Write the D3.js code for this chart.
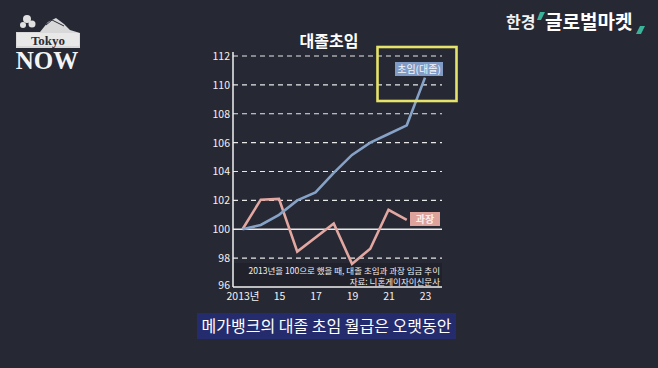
<!DOCTYPE html>
<html><head><meta charset="utf-8">
<script src="https://cdn.jsdelivr.net/npm/d3@7"></script>
<style>html,body{margin:0;padding:0;background:#262834;}svg{display:block;}</style>
</head><body>
<script>
const years = [2013,2014,2015,2016,2017,2018,2019,2020,2021,2022,2023];
const graduateStart = [100,100.3,101.0,102.0,102.55,103.9,105.15,106.0,106.6,107.2,110.5];
const managerYears = [2013,2014,2015,2016,2018,2019,2020,2021,2022];
const managerValues = [100,102.05,102.1,98.45,100.4,97.6,98.65,101.35,100.65];
const yTicks = [96,98,100,102,104,106,108,110,112];
const xTicks = [2013,2015,2017,2019,2021,2023];
const xTickLabels = ["2013년","15","17","19","21","23"];
const title = "대졸초임";
const seriesLabels = ["초임(대졸)","과장"];
const notes = ["2013년을 100으로 했을 때, 대졸 초임과 과장 임금 추이","자료: 니혼게이자이신문사"];
const subtitle = "메가뱅크의 대졸 초임 월급은 오랫동안";

const W=658,H=368;
const svg=d3.select("body").append("svg").attr("width",W).attr("height",H);
svg.append("rect").attr("width",W).attr("height",H).attr("fill","#262834");
const font="'Noto Sans CJK KR','Noto Sans',sans-serif";

const x=d3.scaleLinear().domain([2013,2023]).range([242.5,425]);
const y=d3.scaleLinear().domain([96,112]).range([287,56]);
const left=233,right=442;

// footnote backdrop
svg.append("rect").attr("x",left).attr("y",263).attr("width",right-left).attr("height",24).attr("fill","#20212b");

// grid
yTicks.forEach(t=>{
  if(t===96) return;
  svg.append("line").attr("x1",left).attr("x2",right).attr("y1",y(t)).attr("y2",y(t))
    .attr("stroke","#e8e8e8").attr("stroke-width",t===100?1.6:1.2)
    .attr("stroke-dasharray",t===100?null:"5,4");
});
// axes
svg.append("line").attr("x1",left).attr("x2",left).attr("y1",y(112)-4).attr("y2",y(96)).attr("stroke","#f0f0f0").attr("stroke-width",1.5);
svg.append("line").attr("x1",left).attr("x2",right).attr("y1",y(96)).attr("y2",y(96)).attr("stroke","#f0f0f0").attr("stroke-width",1.5);

const ya=svg.append("g").attr("transform",`translate(${left-3},0)`).call(d3.axisLeft(y).tickValues(yTicks).tickSize(0).tickPadding(0));
ya.select(".domain").remove();
ya.selectAll("text").attr("fill","#f2f2f2").attr("font-size",10.5).attr("font-family",font);
ya.selectAll(".tick").filter(d=>d===96).select("text").attr("dy","0.1em");

const xa=svg.append("g").attr("transform",`translate(0,${y(96)})`).call(d3.axisBottom(x).tickValues(xTicks).tickSize(0).tickPadding(6).tickFormat((d,i)=>xTickLabels[i]));
xa.select(".domain").remove();
xa.selectAll("text").attr("fill","#f2f2f2").attr("font-size",10.5).attr("font-family",font);

// title
svg.append("text").attr("x",329).attr("y",47).attr("text-anchor","middle").attr("fill","#ffffff")
  .attr("font-size",16).attr("font-weight","bold").attr("font-family",font).text(title);

// lines
const line=d3.line().x(d=>x(d[0])).y(d=>y(d[1]));
svg.append("path").datum(managerYears.map((d,i)=>[d,managerValues[i]])).attr("d",line)
  .attr("fill","none").attr("stroke","#e2a7a1").attr("stroke-width",2.6).attr("stroke-linejoin","miter");
svg.append("path").datum(years.map((d,i)=>[d,graduateStart[i]])).attr("d",line)
  .attr("fill","none").attr("stroke","#86a2c6").attr("stroke-width",2.6);

// labels
svg.append("rect").attr("x",395).attr("y",62).attr("width",48).attr("height",14).attr("fill","#7f9bc6");
svg.append("text").attr("x",419).attr("y",73).attr("text-anchor","middle").attr("fill","#f4f6fa")
  .attr("font-size",10).attr("font-family",font).text(seriesLabels[0]);
svg.append("rect").attr("x",410).attr("y",212).attr("width",30).attr("height",14).attr("fill","#dea29c");
svg.append("text").attr("x",425).attr("y",223).attr("text-anchor","middle").attr("fill","#fbeeee")
  .attr("font-size",10).attr("font-weight","bold").attr("font-family",font).text(seriesLabels[1]);

// yellow highlight
svg.append("rect").attr("x",377.5).attr("y",47).attr("width",79).attr("height",54)
  .attr("fill","none").attr("stroke","#e6e36a").attr("stroke-width",2.6);

// notes
svg.append("text").attr("x",440).attr("y",274).attr("text-anchor","end").attr("fill","#f0f0f0")
  .attr("font-size",8.5).attr("font-family",font).text(notes[0]);
svg.append("text").attr("x",440).attr("y",285).attr("text-anchor","end").attr("fill","#f0f0f0")
  .attr("font-size",8.5).attr("font-family",font).text(notes[1]);

// subtitle
svg.append("rect").attr("x",197).attr("y",313).attr("width",259).attr("height",26).attr("fill","#252c6e");
svg.append("text").attr("x",326.5).attr("y",332).attr("text-anchor","middle").attr("fill","#ffffff")
  .attr("font-size",16).attr("font-family",font).text(subtitle);

// Tokyo NOW logo
const lg=svg.append("g");
lg.append("path").attr("d","M16,48 L16,32 L40,32 L48,22 L56,18 L64,24 L70,30 L80,33 L80,48 Z").attr("fill","#d8d8d8");
lg.append("path").attr("d","M46,25 L52,20 L58,23 L64,26").attr("fill","none").attr("stroke","#2a2c38").attr("stroke-width",1);
lg.append("rect").attr("x",17).attr("y",33).attr("width",62).attr("height",13).attr("fill","#e8e8e8");
lg.append("circle").attr("cx",27).attr("cy",19).attr("r",4).attr("fill","#e0e0e0");
lg.append("circle").attr("cx",32).attr("cy",24).attr("r",3.5).attr("fill","#e0e0e0");
lg.append("circle").attr("cx",23).attr("cy",25).attr("r",3).attr("fill","#e0e0e0");
lg.append("text").attr("x",48).attr("y",45).attr("text-anchor","middle").attr("fill","#2a2c38")
  .attr("font-size",13).attr("font-weight","bold").attr("font-family","'Liberation Serif',serif").text("Tokyo");
lg.append("text").attr("x",47).attr("y",69).attr("text-anchor","middle").attr("fill","#f4f4f4")
  .attr("font-size",25).attr("font-weight","bold").attr("font-family","'Liberation Serif',serif").text("NOW");

// Hankyung logo
const hk=svg.append("g");
hk.append("text").attr("x",506).attr("y",28).attr("fill","#f2f2f2").attr("font-size",16)
  .attr("font-weight","bold").attr("font-family",font).text("한경");
hk.append("path").attr("d","M540,12 L545,12 L541,20 L537,20 Z").attr("fill","#3bb39a");
hk.append("text").attr("x",545).attr("y",29).attr("fill","#ffffff").attr("font-size",19)
  .attr("font-weight","bold").attr("font-family",font).text("글로벌마켓");
hk.append("path").attr("d","M640,26 L645,26 L641,34 L636,34 Z").attr("fill","#3bb39a");
</script>
</body></html>
